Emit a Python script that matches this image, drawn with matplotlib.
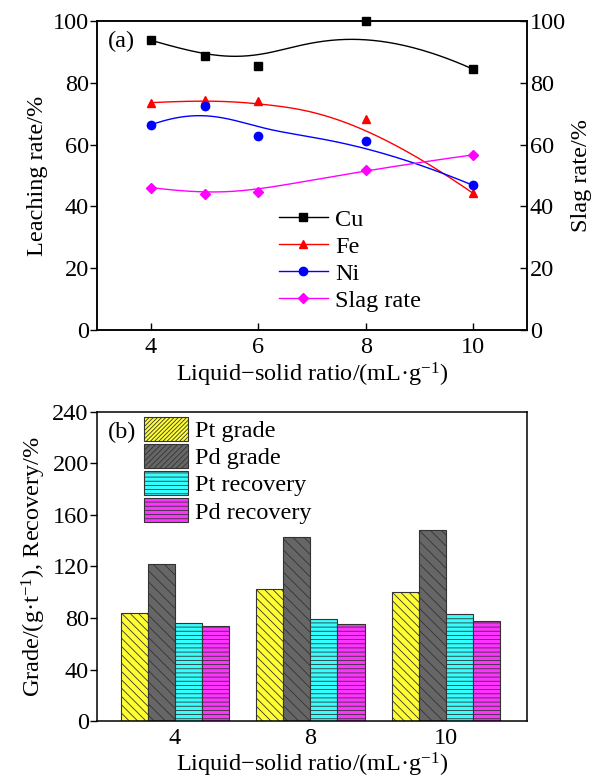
#!/usr/bin/env python3
"""
Leaching rate vs liquid-solid ratio (a) and Pt/Pd grade & recovery (b)
"""
import matplotlib
matplotlib.use('Agg')
import matplotlib.pyplot as plt
import matplotlib.patches as mpatches
from matplotlib.lines import Line2D
import numpy as np

plt.rcParams['font.family'] = ['Liberation Serif', 'DejaVu Serif']
plt.rcParams['mathtext.fontset'] = 'custom'
plt.rcParams['mathtext.rm'] = 'Liberation Serif'
plt.rcParams['mathtext.it'] = 'Liberation Serif:italic'
plt.rcParams['hatch.linewidth'] = 0.6

# Panel (a) data
ratio = [4, 5, 6, 8, 10]
cu = [93.8, 88.8, 85.5, 100.0, 84.4]
fe = [73.6, 74.4, 74.1, 68.3, 44.2]
ni = [66.4, 72.6, 62.7, 61.2, 46.8]
slag = [46.1, 44.0, 44.7, 51.9, 56.7]

# Panel (b) data
ratio_b = ['4', '8', '10']
pt_grade = [84.2, 102.6, 100.0]
pd_grade = [121.6, 143.0, 148.3]
pt_recovery = [76.5, 79.0, 83.2]
pd_recovery = [74.1, 75.0, 77.5]

FS = 17.5
xlabel = 'Liquid\u2212solid ratio/(mL\u00b7g$^{-1}$)'


# clamped cubic B-spline through control points (Origin style "B-spline" line)
def bspline(px, py, n=300):
    cp = np.column_stack([px, py]).astype(float)
    k = 3
    m = len(cp)
    knots = np.concatenate([np.zeros(k), np.linspace(0, 1, m - k + 1), np.ones(k)])
    u = np.linspace(0, 1, n)
    u[-1] -= 1e-9
    out = []
    for uu in u:
        j = np.searchsorted(knots, uu, side='right') - 1
        d = [cp[j - k + r].copy() for r in range(k + 1)]
        for r in range(1, k + 1):
            for s in range(k, r - 1, -1):
                i = j - k + s
                a = (uu - knots[i]) / (knots[i + k + 1 - r] - knots[i])
                d[s] = (1 - a) * d[s - 1] + a * d[s]
        out.append(d[k])
    out = np.array(out)
    return out[:, 0], out[:, 1]


fig = plt.figure(figsize=(6.03, 7.81), dpi=100)
ax1 = fig.add_axes([0.161, 0.5775, 0.713, 0.3955])
ax2 = ax1.twinx()
axb = fig.add_axes([0.161, 0.0768, 0.713, 0.3957])

# ---- panel (a)
series = [
    (ax1, cu, 'Cu', 'black', 's'),
    (ax1, fe, 'Fe', 'red', '^'),
    (ax1, ni, 'Ni', 'blue', 'o'),
    (ax2, slag, 'Slag rate', '#ff00ff', 'D'),
]
handles = []
for ax, ys, name, col, mk in series:
    sx, sy = bspline(ratio, ys)
    ax.plot(sx, sy, color=col, lw=1.0)
    ms = 5.0 if mk == 'D' else 6.0
    ax.plot(ratio, ys, ls='none', marker=mk, color=col, ms=ms, clip_on=False, zorder=5)
    handles.append(Line2D([0], [0], color=col, lw=1.0, marker=mk, ms=ms))

for ax in (ax1, ax2):
    ax.set_xlim(3, 11)
    ax.set_ylim(0, 100)
    ax.set_yticks(range(0, 101, 20))
ax1.set_xticks([4, 6, 8, 10])
ax1.tick_params(axis='x', direction='in', length=5, width=1, labelsize=FS, pad=5)
ax1.tick_params(axis='y', direction='out', length=5, width=1, labelsize=FS, pad=1)
ax2.tick_params(axis='y', direction='in', length=5, width=1, labelsize=FS, pad=2)
ax1.set_ylabel('Leaching rate/%', fontsize=FS, labelpad=3)
ax2.set_ylabel('Slag rate/%', fontsize=FS, labelpad=4)
ax1.set_xlabel(xlabel, fontsize=FS, labelpad=2)
for ax in (ax1, ax2):
    for sp in ax.spines.values():
        sp.set_linewidth(1.1)
ax1.text(0.025, 0.935, '(a)', transform=ax1.transAxes, fontsize=FS, va='center', ha='left')
ax2.legend(handles, ['Cu', 'Fe', 'Ni', 'Slag rate'], loc='upper left',
           bbox_to_anchor=(0.423, 0.392), frameon=False, fontsize=FS,
           handlelength=2.0, handletextpad=0.3, labelspacing=0.2,
           borderpad=0, borderaxespad=0)

# ---- panel (b)
x = np.arange(len(ratio_b))
width = 0.2
bar_specs = [
    (pt_grade, 'Pt grade', '#ffff33', '\\\\\\\\', '////////'),
    (pd_grade, 'Pd grade', '#666666', '\\\\\\', '//////'),
    (pt_recovery, 'Pt recovery', '#33ffff', '----', '----'),
    (pd_recovery, 'Pd recovery', '#ff33ff', '----', '----'),
]
leg_handles = []
for i, (vals, name, col, hatch, leg_hatch) in enumerate(bar_specs):
    axb.bar(x + (i - 1.5) * width, vals, width, color=col, edgecolor='#333333',
            hatch=hatch, linewidth=0.8)
    leg_handles.append(mpatches.Patch(facecolor=col, edgecolor='#333333',
                                      hatch=leg_hatch, linewidth=0.8, label=name))

axb.set_xlim(-0.575, 2.6)
axb.set_ylim(0, 240)
axb.set_yticks(range(0, 241, 40))
axb.set_xticks(x)
axb.set_xticklabels(ratio_b)
axb.tick_params(axis='x', length=0, labelsize=FS, pad=5)
axb.tick_params(axis='y', direction='out', length=5, width=1, labelsize=FS, pad=1)
axb.set_ylabel('Grade/(g\u00b7t$^{-1}$), Recovery/%', fontsize=FS, labelpad=3)
axb.set_xlabel(xlabel, fontsize=FS, labelpad=1)
for sp in axb.spines.values():
    sp.set_linewidth(1.1)
axb.text(0.025, 0.935, '(b)', transform=axb.transAxes, fontsize=FS, va='center', ha='left')
axb.legend(handles=leg_handles, loc='upper left', bbox_to_anchor=(0.109, 0.985),
           frameon=False, fontsize=FS, handlelength=1.8, handleheight=1.15,
           handletextpad=0.3, labelspacing=0.08, borderpad=0, borderaxespad=0)

plt.savefig('out.png', dpi=100)
print("Created out.png")
